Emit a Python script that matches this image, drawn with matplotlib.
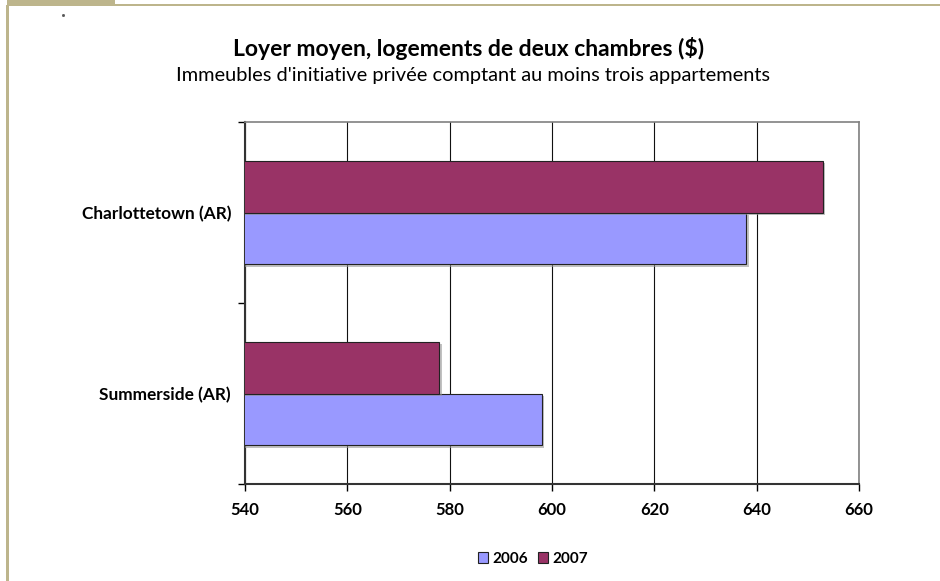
import matplotlib
matplotlib.use("Agg")
import matplotlib.pyplot as plt
from matplotlib.patches import Rectangle, Patch
from matplotlib.lines import Line2D
import matplotlib.patheffects as pe
import numpy as np

#############################################
# data
categories = ["Summerside (AR)", "Charlottetown (AR)"]
rent_2006 = [598, 638]
rent_2007 = [578, 653]
series_names = ["2006", "2007"]
x_ticks = [540, 560, 580, 600, 620, 640, 660]

color_2006 = "#9999FF"
color_2007 = "#993366"
frame_color = "#BDB58C"

plt.rcParams["font.family"] = ["Lato", "DejaVu Sans"]

#############################################
fig = plt.figure(figsize=(9.4, 5.81), dpi=100)
W, H = 940.0, 581.0

# page decoration (tan tab + border lines)
fig.add_artist(Rectangle((7 / W, 1 - 5.5 / H), 108 / W, 5.5 / H,
                         transform=fig.transFigure, color=frame_color, lw=0))
fig.add_artist(Rectangle((115 / W, 1 - 6 / H), 825 / W, 1.5 / H,
                         transform=fig.transFigure, color=frame_color, lw=0))
fig.add_artist(Rectangle((6 / W, 0), 3 / W, 1 - 5 / H,
                         transform=fig.transFigure, color=frame_color, lw=0))
fig.add_artist(Line2D([63 / W], [1 - 15 / H], transform=fig.transFigure,
                      marker="s", markersize=1, color="#555555", lw=0))

ax = fig.add_axes([245 / W, 1 - 484 / H, 614 / W, 362 / H])

y = np.arange(len(categories))
h = 0.287
shadow = [pe.SimplePatchShadow(offset=(1.5, -1.5), shadow_rgbFace="#999999", alpha=0.6),
          pe.Normal()]
b1 = ax.barh(y - h / 2, rent_2006, height=h, left=0, color=color_2006,
             edgecolor="#222222", linewidth=0.8, zorder=3)
b2 = ax.barh(y + h / 2, rent_2007, height=h, left=0, color=color_2007,
             edgecolor="#222222", linewidth=0.8, zorder=3)
for b in list(b1) + list(b2):
    b.set_path_effects(shadow)

ax.set_xlim(540, 660)
ax.set_ylim(-0.5, 1.5)

ax.set_xticks(x_ticks)
ax.set_xticklabels([str(v) for v in x_ticks], fontsize=12, fontweight="bold")
ax.tick_params(axis="x", direction="out", length=5, width=1, pad=8)
ax.grid(axis="x", color="#111111", linewidth=0.8, zorder=0)

ax.set_yticks([-0.5, 0.5, 1.5])
ax.set_yticklabels([])
ax.set_yticks(y, minor=True)
ax.set_yticklabels(categories, minor=True, fontsize=12.4, fontweight="bold")
ax.tick_params(axis="y", which="major", direction="out", length=5, width=1)
ax.tick_params(axis="y", which="minor", length=0, pad=10)

for s in ["left", "bottom"]:
    ax.spines[s].set_color("#333333")
    ax.spines[s].set_linewidth(1.5)
for s in ["top", "right"]:
    ax.spines[s].set_color("#808080")
    ax.spines[s].set_linewidth(1.2)

fig.text(469 / W, 1 - 48 / H, "Loyer moyen, logements de deux chambres ($)",
         ha="center", va="center", fontsize=16.5, fontweight="bold")
fig.text(473 / W, 1 - 76 / H,
         "Immeubles d'initiative privée comptant au moins trois appartements",
         ha="center", va="center", fontsize=14.4)

handles = [Patch(facecolor=color_2006, edgecolor="#222222", lw=0.8),
           Patch(facecolor=color_2007, edgecolor="#222222", lw=0.8)]
fig.legend(handles, series_names, loc="center", bbox_to_anchor=(533 / W, 1 - 559 / H),
           ncol=2, frameon=False, handlelength=0.7, handleheight=0.7,
           handletextpad=0.3, columnspacing=0.6,
           prop={"weight": "bold", "size": 11})

fig.savefig("out.png", dpi=100)
